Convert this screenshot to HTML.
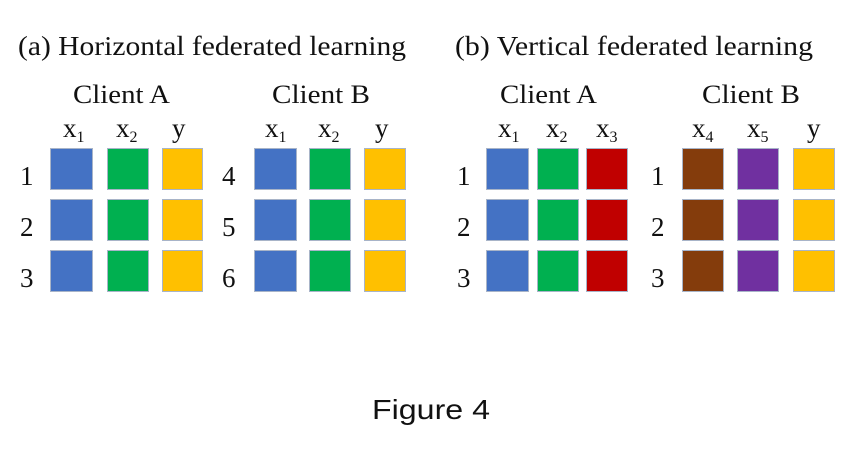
<!DOCTYPE html>
<html><head><meta charset="utf-8"><style>
html,body{margin:0;padding:0;background:#fff;}
svg{display:block;}
.t{font-family:"Liberation Serif",serif;fill:#111;}
.f{font-family:"Liberation Sans",sans-serif;fill:#111;}
</style></head><body>
<svg width="856" height="458" viewBox="0 0 856 458" xmlns="http://www.w3.org/2000/svg">
<g class="t">
<text x="18" y="55" font-size="27" textLength="388" lengthAdjust="spacingAndGlyphs">(a)  Horizontal federated learning</text>
<text x="455" y="55" font-size="27" textLength="358" lengthAdjust="spacingAndGlyphs">(b)  Vertical federated learning</text>
<text x="73" y="103" font-size="26" textLength="97" lengthAdjust="spacingAndGlyphs">Client A</text>
<text x="272" y="103" font-size="26" textLength="98" lengthAdjust="spacingAndGlyphs">Client B</text>
<text x="500" y="103" font-size="26" textLength="97" lengthAdjust="spacingAndGlyphs">Client A</text>
<text x="702" y="103" font-size="26" textLength="98" lengthAdjust="spacingAndGlyphs">Client B</text>

<g font-size="27">
<text x="63" y="137">x<tspan font-size="16" dy="5">1</tspan></text>
<text x="116" y="137">x<tspan font-size="16" dy="5">2</tspan></text>
<text x="172" y="137">y</text>
<text x="265" y="137">x<tspan font-size="16" dy="5">1</tspan></text>
<text x="318" y="137">x<tspan font-size="16" dy="5">2</tspan></text>
<text x="375" y="137">y</text>
<text x="498" y="137">x<tspan font-size="16" dy="5">1</tspan></text>
<text x="546" y="137">x<tspan font-size="16" dy="5">2</tspan></text>
<text x="596" y="137">x<tspan font-size="16" dy="5">3</tspan></text>
<text x="692" y="137">x<tspan font-size="16" dy="5">4</tspan></text>
<text x="747" y="137">x<tspan font-size="16" dy="5">5</tspan></text>
<text x="807" y="137">y</text>

<text x="20" y="185">1</text><text x="20" y="236">2</text><text x="20" y="287">3</text>
<text x="222" y="185">4</text><text x="222" y="236">5</text><text x="222" y="287">6</text>
<text x="457" y="185">1</text><text x="457" y="236">2</text><text x="457" y="287">3</text>
<text x="651" y="185">1</text><text x="651" y="236">2</text><text x="651" y="287">3</text>
</g>
</g>
<g stroke="#a8b4c8" stroke-width="1">
<!-- left A -->
<g fill="#4472c4"><rect x="50.5" y="148.5" width="42" height="41"/><rect x="50.5" y="199.5" width="42" height="41"/><rect x="50.5" y="250.5" width="42" height="41"/></g>
<g fill="#00b050"><rect x="107.5" y="148.5" width="41" height="41"/><rect x="107.5" y="199.5" width="41" height="41"/><rect x="107.5" y="250.5" width="41" height="41"/></g>
<g fill="#ffc000"><rect x="162.5" y="148.5" width="40" height="41"/><rect x="162.5" y="199.5" width="40" height="41"/><rect x="162.5" y="250.5" width="40" height="41"/></g>
<!-- left B -->
<g fill="#4472c4"><rect x="254.5" y="148.5" width="42" height="41"/><rect x="254.5" y="199.5" width="42" height="41"/><rect x="254.5" y="250.5" width="42" height="41"/></g>
<g fill="#00b050"><rect x="309.5" y="148.5" width="41" height="41"/><rect x="309.5" y="199.5" width="41" height="41"/><rect x="309.5" y="250.5" width="41" height="41"/></g>
<g fill="#ffc000"><rect x="364.5" y="148.5" width="41" height="41"/><rect x="364.5" y="199.5" width="41" height="41"/><rect x="364.5" y="250.5" width="41" height="41"/></g>
<!-- right A -->
<g fill="#4472c4"><rect x="486.5" y="148.5" width="42" height="41"/><rect x="486.5" y="199.5" width="42" height="41"/><rect x="486.5" y="250.5" width="42" height="41"/></g>
<g fill="#00b050"><rect x="537.5" y="148.5" width="41" height="41"/><rect x="537.5" y="199.5" width="41" height="41"/><rect x="537.5" y="250.5" width="41" height="41"/></g>
<g fill="#c00000"><rect x="586.5" y="148.5" width="41" height="41"/><rect x="586.5" y="199.5" width="41" height="41"/><rect x="586.5" y="250.5" width="41" height="41"/></g>
<!-- right B -->
<g fill="#843c0c"><rect x="682.5" y="148.5" width="41" height="41"/><rect x="682.5" y="199.5" width="41" height="41"/><rect x="682.5" y="250.5" width="41" height="41"/></g>
<g fill="#7030a0"><rect x="737.5" y="148.5" width="41" height="41"/><rect x="737.5" y="199.5" width="41" height="41"/><rect x="737.5" y="250.5" width="41" height="41"/></g>
<g fill="#ffc000"><rect x="793.5" y="148.5" width="41" height="41"/><rect x="793.5" y="199.5" width="41" height="41"/><rect x="793.5" y="250.5" width="41" height="41"/></g>
</g>
<text class="f" x="372" y="419" font-size="28" textLength="118" lengthAdjust="spacingAndGlyphs">Figure 4</text>
</svg>
</body></html>
